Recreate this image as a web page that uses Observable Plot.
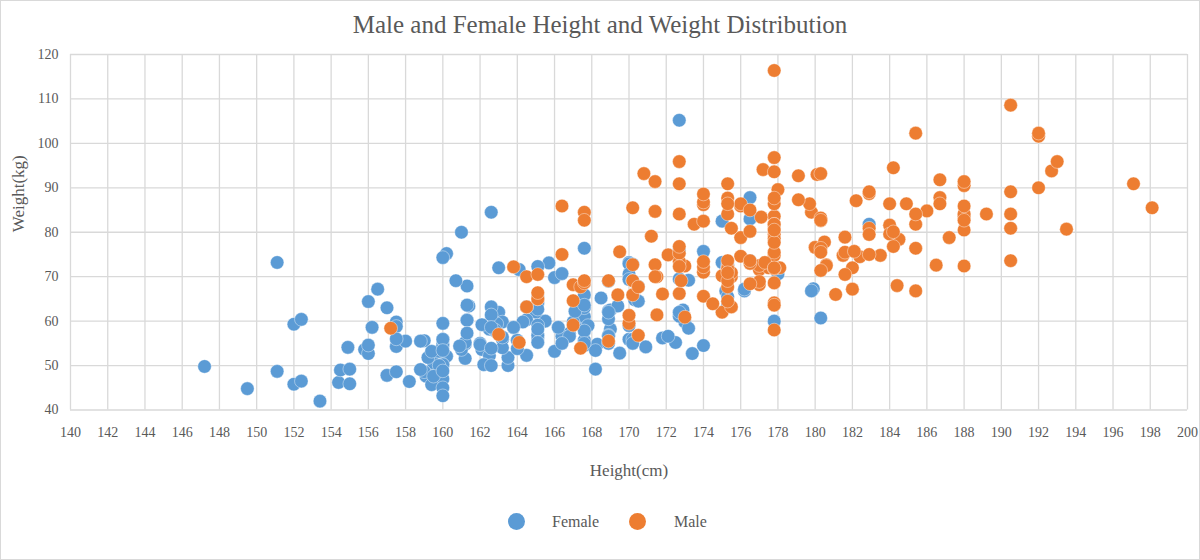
<!DOCTYPE html>
<html>
<head>
<meta charset="utf-8">
<script src="https://cdn.jsdelivr.net/npm/d3@7"></script>
<script src="https://cdn.jsdelivr.net/npm/@observablehq/plot@0.6"></script>
<style>
  html, body { margin: 0; padding: 0; background: #fff; overflow: hidden; }
  #wrap { position: relative; width: 1200px; height: 560px;
          font-family: "Liberation Serif", "Times New Roman", serif; color: #595959; }
  #frame { position: absolute; left: 0; top: 0; width: 1200px; height: 560px; border: 1px solid #d9d9d9;
           box-sizing: border-box; pointer-events: none; }
  #title { height: 44px; text-align: center; font-size: 25px; line-height: 50px; white-space: nowrap; }
  #chart svg { display: block; overflow: visible; }
  .leg { position: absolute; top: 513px; height: 17px; line-height: 17px; font-size: 16px; }
  .sw { position: absolute; top: 513px; width: 17px; height: 17px; border-radius: 50%; }
</style>
</head>
<body>
<div id="wrap">
  <div id="title">Male and Female Height and Weight Distribution</div>
  <div id="chart"></div>
  <div class="sw" style="left:508px;background:#5b9bd5"></div>
  <div class="leg" style="left:552px">Female</div>
  <div class="sw" style="left:629px;background:#ed7d31"></div>
  <div class="leg" style="left:674px">Male</div>
  <div id="frame"></div>
</div>
<script>
const seriesNames = ["Female", "Male"];
const seriesColors = ["#5b9bd5", "#ed7d31"];
const xTicks = [140,142,144,146,148,150,152,154,156,158,160,162,164,166,168,170,172,174,176,178,180,182,184,186,188,190,192,194,196,198,200];
const yTicks = [40,50,60,70,80,90,100,110,120];

// [height(cm), weight(kg)]
const female = [
[161.2,51.6],[167.5,59.0],[159.5,49.2],[157.0,63.0],[155.8,53.6],[170.0,59.0],[159.1,47.6],[166.0,69.8],[176.2,66.8],[160.2,75.2],
[172.5,55.2],[170.9,54.2],[172.9,62.5],[153.4,42.0],[160.0,50.0],[147.2,49.8],[168.2,49.2],[175.0,73.2],[157.0,47.8],[167.6,68.8],
[159.5,50.6],[175.0,82.5],[166.8,57.2],[176.5,87.8],[170.2,72.8],[174.0,54.5],[173.0,59.8],[179.9,67.3],[170.5,67.8],[160.0,47.0],
[154.4,46.2],[162.0,55.0],[176.5,83.0],[160.0,54.4],[152.0,45.8],[162.1,53.6],[170.0,73.2],[160.2,52.1],[161.3,67.9],[166.4,56.6],
[168.9,62.3],[163.8,58.5],[167.6,54.5],[160.0,50.2],[161.3,60.3],[167.6,58.3],[165.1,56.2],[160.0,50.2],[170.0,72.9],[157.5,59.8],
[167.6,61.0],[160.7,69.1],[163.2,55.9],[152.4,46.5],[157.5,54.3],[168.3,54.8],[180.3,60.7],[165.5,60.0],[165.0,62.0],[164.5,60.3],
[156.0,52.7],[160.0,74.3],[163.0,62.0],[165.7,73.1],[161.0,80.0],[162.0,54.7],[166.0,53.2],[174.0,75.7],[172.7,61.1],[167.6,55.7],
[151.1,48.7],[164.5,52.3],[163.5,50.0],[152.0,59.3],[169.0,62.5],[164.0,55.7],[161.2,54.8],[155.0,45.9],[170.0,70.6],[176.2,67.2],
[170.0,69.4],[162.5,58.2],[170.3,64.8],[164.1,71.6],[169.5,52.8],[163.2,59.8],[154.5,49.0],[159.8,50.0],[173.2,69.2],[170.0,55.9],
[161.4,63.4],[169.0,58.2],[166.2,58.6],[159.4,45.7],[162.5,52.2],[159.0,48.6],[162.8,57.8],[159.0,55.6],[179.8,66.8],[162.9,59.4],
[161.0,53.6],[151.1,73.2],[168.2,53.4],[168.9,69.0],[173.2,58.4],[171.8,56.2],[178.0,70.6],[164.3,59.8],[163.0,72.0],[168.5,65.2],
[166.8,56.6],[172.7,105.2],[163.5,51.8],[169.4,63.4],[167.8,59.0],[159.5,47.6],[167.6,63.0],[161.2,55.2],[160.0,45.0],[163.2,54.0],
[162.2,50.2],[161.3,60.2],[149.5,44.8],[157.5,58.8],[163.2,56.4],[172.7,62.0],[155.0,49.2],[156.5,67.2],[164.0,53.8],[160.9,54.4],
[162.8,58.0],[167.0,59.8],[160.0,54.8],[160.0,43.2],[168.9,60.5],[158.2,46.4],[156.0,64.4],[160.0,48.8],[167.1,62.2],[158.0,55.5],
[167.6,57.8],[156.0,54.6],[162.1,59.2],[173.4,52.7],[159.8,53.2],[170.5,64.5],[159.2,51.8],[157.5,56.0],[161.3,63.6],[162.6,63.2],
[160.0,59.5],[168.9,56.8],[165.1,64.1],[162.6,50.0],[165.1,72.3],[166.4,55.0],[160.0,55.9],[152.4,60.4],[170.2,69.1],[162.6,84.5],
[170.2,55.9],[158.8,55.5],[172.7,69.5],[167.6,76.4],[162.6,61.4],[167.6,65.9],[156.2,58.6],[175.2,66.8],[172.1,56.6],[162.6,58.6],
[160.0,55.9],[165.1,59.1],[182.9,81.8],[166.4,70.7],[165.1,56.8],[177.8,60.0],[165.1,58.2],[175.3,72.7],[154.9,54.1],[158.8,49.1],
[172.7,75.9],[168.9,55.0],[161.3,57.3],[167.6,55.0],[165.1,65.5],[175.3,65.5],[157.5,48.6],[163.8,58.6],[167.6,63.6],[165.1,55.2],
[165.1,62.7],[168.9,56.6],[162.6,53.9],[164.5,63.2],[176.5,73.6],[168.9,62.0],[175.3,63.6],[159.4,53.2],[160.0,53.4],[170.2,55.0]
];

const male = [
[174.0,65.6],[175.3,71.8],[193.5,80.7],[186.5,72.6],[187.2,78.8],[181.5,74.8],[184.0,86.4],[184.5,78.4],[175.0,62.0],[184.0,81.6],
[180.0,76.6],[177.8,83.6],[192.0,90.0],[176.0,74.6],[174.0,71.0],[184.0,79.6],[192.7,93.8],[171.5,70.0],[173.0,72.4],[176.0,85.9],
[176.0,78.8],[180.5,77.8],[172.7,66.2],[176.0,86.4],[173.5,81.8],[178.0,89.6],[180.3,82.8],[180.3,76.4],[164.5,63.2],[173.0,60.9],
[183.5,74.8],[175.5,70.0],[188.0,72.4],[189.2,84.1],[172.8,69.1],[170.0,59.5],[182.0,67.2],[170.0,61.3],[177.8,68.6],[184.2,80.1],
[186.7,87.8],[171.4,84.7],[172.7,73.4],[175.3,72.1],[180.3,82.6],[182.9,88.7],[188.0,84.1],[177.2,94.1],[172.1,74.9],[167.0,59.1],
[169.5,75.6],[174.0,86.2],[172.7,75.3],[182.2,87.1],[164.1,55.2],[163.0,57.0],[171.5,61.4],[184.2,76.8],[174.0,86.8],[174.0,72.2],
[177.0,71.6],[186.0,84.8],[167.0,68.2],[171.8,66.1],[182.0,72.0],[167.0,64.6],[177.8,74.8],[164.5,70.0],[192.0,101.6],[175.5,63.2],
[171.2,79.1],[181.6,78.9],[167.4,67.7],[181.1,66.0],[177.0,68.2],[174.5,63.9],[177.5,72.0],[170.5,56.8],[182.4,74.5],[197.1,90.9],
[180.1,93.0],[175.5,80.9],[180.6,72.7],[184.4,68.0],[175.5,70.9],[180.6,72.5],[177.0,72.5],[177.1,83.4],[181.6,75.5],[176.5,73.0],
[175.0,70.2],[174.0,73.4],[165.1,70.5],[177.0,68.9],[192.0,102.3],[176.5,68.4],[169.4,65.9],[182.1,75.7],[179.8,84.5],[175.3,87.7],
[184.9,86.4],[177.3,73.2],[167.4,53.9],[178.1,72.0],[168.9,55.5],[157.2,58.4],[180.3,83.2],[170.2,72.7],[177.8,64.1],[172.7,72.3],
[165.1,65.0],[186.7,86.4],[165.1,65.0],[174.0,88.6],[175.3,84.1],[185.4,66.8],[177.8,75.5],[180.3,93.2],[180.3,82.7],[177.8,58.0],
[177.8,79.5],[177.8,78.6],[177.8,71.8],[177.8,116.4],[163.8,72.2],[188.0,83.6],[198.1,85.5],[175.3,90.9],[166.4,85.9],[190.5,89.1],
[166.4,75.0],[177.8,77.7],[179.7,86.4],[172.7,90.9],[190.5,73.6],[185.4,76.4],[168.9,69.1],[167.6,84.5],[175.3,64.5],[170.2,69.1],
[190.5,108.6],[177.8,86.4],[190.5,80.9],[177.8,87.7],[184.2,94.5],[176.5,80.2],[177.8,72.0],[180.3,71.4],[171.4,72.7],[172.7,84.1],
[172.7,76.8],[177.8,63.6],[177.8,80.9],[182.9,80.9],[170.2,85.5],[167.6,68.6],[175.3,67.7],[165.1,66.4],[185.4,102.3],[181.6,70.5],
[172.7,95.9],[190.5,84.1],[179.1,87.3],[175.3,71.8],[170.2,65.9],[193.0,95.9],[171.4,91.4],[177.8,81.8],[177.8,96.8],[167.6,69.1],
[167.6,82.7],[180.3,75.5],[182.9,79.5],[176.5,73.6],[186.7,91.8],[188.0,84.1],[188.0,85.9],[177.8,81.8],[174.0,82.5],[177.8,80.5],
[171.4,70.0],[185.4,81.8],[185.4,84.1],[188.0,90.5],[188.0,91.4],[182.9,89.1],[176.5,85.0],[175.3,69.1],[175.3,73.6],[188.0,80.5],
[188.0,82.7],[175.3,86.4],[170.5,67.7],[179.1,92.7],[177.8,93.6],[175.3,70.9],[182.9,75.0],[170.8,93.2]
];

const chart = Plot.plot({
  width: 1200,
  height: 440,
  marginTop: 10,
  marginBottom: 74.5,
  marginLeft: 70,
  marginRight: 13,
  style: { fontFamily: "'Liberation Serif', 'Times New Roman', serif", fontSize: "14px", color: "#595959", background: "transparent", overflow: "visible" },
  x: { domain: [140, 200] },
  y: { domain: [40, 120] },
  marks: [
    Plot.ruleX(xTicks, { stroke: "#d9d9d9", strokeWidth: 1.3 }),
    Plot.ruleY(yTicks, { stroke: "#d9d9d9", strokeWidth: 1.3 }),
    Plot.axisX({ ticks: xTicks, tickSize: 0, tickPadding: 17, label: null, tickFormat: d => String(d), fontSize: 14 }),
    Plot.axisY({ ticks: yTicks, tickSize: 0, tickPadding: 12, label: null, tickFormat: d => String(d), fontSize: 14 }),
    Plot.dot(female, { x: d => d[0], y: d => d[1], r: 6.8, fill: seriesColors[0], stroke: "#ffffff", strokeWidth: 0.6, strokeOpacity: 0.7 }),
    Plot.dot(male, { x: d => d[0], y: d => d[1], r: 6.8, fill: seriesColors[1], stroke: "#ffffff", strokeWidth: 0.6, strokeOpacity: 0.7 }),
    Plot.text(["Height(cm)"], { text: d => d, frameAnchor: "bottom", dy: 60.5, lineAnchor: "middle", fontSize: 17, fill: "#595959" }),
    Plot.text(["Weight(kg)"], { text: d => d, frameAnchor: "left", dx: -52, rotate: -90, lineAnchor: "middle", fontSize: 17, fill: "#595959" })
  ]
});
document.getElementById("chart").appendChild(chart);
</script>
</body>
</html>
